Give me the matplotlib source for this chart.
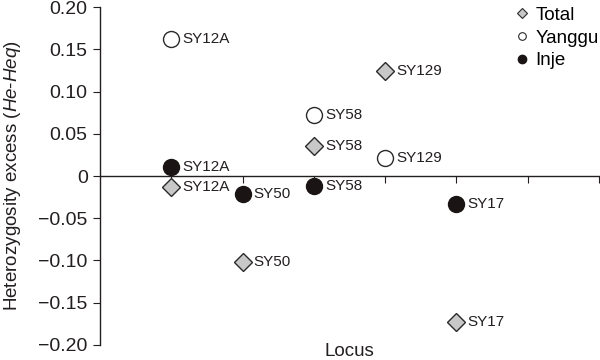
import numpy as np
import matplotlib.pyplot as plt
from matplotlib.ticker import FuncFormatter

plt.rcParams['font.family'] = ['Liberation Sans', 'DejaVu Sans']
plt.rcParams['mathtext.fontset'] = 'custom'
plt.rcParams['mathtext.rm'] = 'Liberation Sans'
plt.rcParams['mathtext.it'] = 'Liberation Sans:italic'

# locus positions along x (1 = SY12A ... 5 = SY17)
total_x = [1, 2, 3, 4, 5]
total_y = [-0.013, -0.102, 0.035, 0.124, -0.173]
total_lab = ["SY12A", "SY50", "SY58", "SY129", "SY17"]

yanggu_x = [1, 3, 4]
yanggu_y = [0.162, 0.072, 0.021]
yanggu_lab = ["SY12A", "SY58", "SY129"]

inje_x = [1, 2, 3, 5]
inje_y = [0.011, -0.021, -0.012, -0.033]
inje_lab = ["SY12A", "SY50", "SY58", "SY17"]

fig = plt.figure(figsize=(6, 3.6), dpi=100)
ax = fig.add_axes([0.167, 0.042, 0.831, 0.938])

ink = '#231f20'
edge = '#2a2a2a'
ax.plot(total_x, total_y, 'D', ms=9.5, mfc='#c8c8c8', mec=edge, mew=1.0, ls='none')
ax.plot(yanggu_x, yanggu_y, 'o', ms=11.5, mfc='white', mec=edge, mew=1.0, ls='none')
ax.plot(inje_x, inje_y, 'o', ms=11.5, mfc='#1a1414', mec='#1a1414', ls='none')

for xs, ys, labs in [(total_x, total_y, total_lab),
                     (yanggu_x, yanggu_y, yanggu_lab),
                     (inje_x, inje_y, inje_lab)]:
    for x, y, t in zip(xs, ys, labs):
        ax.annotate(t, (x, y), xytext=(8, 0), textcoords='offset points',
                    va='center', ha='left', fontsize=11, color=ink)

# legend
h1, = ax.plot([], [], 'D', ms=5, mfc='#c8c8c8', mec=edge, mew=0.8, ls='none')
h2, = ax.plot([], [], 'o', ms=5.5, mfc='white', mec=edge, mew=0.8, ls='none')
h3, = ax.plot([], [], 'o', ms=6, mfc='#1a1414', mec='#1a1414', ls='none')
ax.legend([h1, h2, h3], ["Total", "Yanggu", "Inje"], loc='upper left',
          bbox_to_anchor=(0.80, 1.04), frameon=False, fontsize=13.5,
          handletextpad=0.25, labelspacing=0.3, handlelength=1.0, borderpad=0.2)

ax.set_xlim(0, 7)
ax.set_ylim(-0.2, 0.2)
ax.set_xticks(np.arange(1, 8))
ax.set_xticklabels([])
ax.set_yticks(np.arange(-0.2, 0.201, 0.05))


def fmt(v, pos):
    if abs(v) < 1e-9:
        return "0"
    return ("%.2f" % v).replace("-", "\u2212")


ax.yaxis.set_major_formatter(FuncFormatter(fmt))
ax.spines['top'].set_visible(False)
ax.spines['right'].set_visible(False)
ax.spines['bottom'].set_position(('data', 0))
for s in ['left', 'bottom']:
    ax.spines[s].set_color(ink)
    ax.spines[s].set_linewidth(1.0)
ax.tick_params(axis='both', direction='out', length=5, color=ink,
               labelsize=14, labelcolor=ink, pad=4)
ax.set_ylabel(r"Heterozygosity excess ($He$-$Heq$)", fontsize=13.5, color=ink)
ax.yaxis.set_label_coords(-0.155, 0.5)
ax.text(0.5, -0.019, "Locus", transform=ax.transAxes, ha='center', va='center',
        fontsize=13.5, color=ink)

fig.savefig("out.png", dpi=100)
